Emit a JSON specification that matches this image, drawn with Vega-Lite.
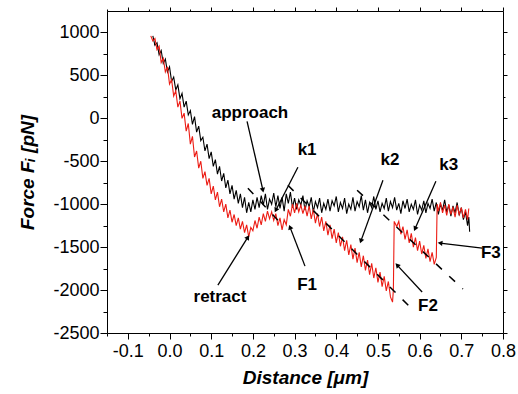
{
  "$schema": "https://vega.github.io/schema/vega-lite/v6.json",
  "width": 396,
  "height": 322,
  "autosize": {"type": "none"},
  "padding": {"left": 107, "top": 11, "right": 15, "bottom": 61},
  "config": {
    "view": {"stroke": null},
    "axis": {
      "grid": false,
      "domainColor": "black",
      "domainWidth": 1,
      "tickColor": "black",
      "tickWidth": 1,
      "labelFont": "Liberation Sans",
      "labelFontSize": 18,
      "labelColor": "black",
      "titleFont": "Liberation Sans",
      "titleFontSize": 19,
      "titleFontWeight": "bold",
      "titleFontStyle": "italic",
      "titleColor": "black"
    }
  },
  "datasets": {
    "approach": [
      {"x":-0.04,"y":960},{"x":-0.035,"y":850},{"x":-0.03,"y":880},{"x":-0.025,"y":740},{"x":-0.02,"y":790},{"x":-0.015,"y":640},{"x":-0.01,"y":690},{"x":-0.005,"y":540},{"x":0,"y":600},{"x":0.005,"y":430},{"x":0.01,"y":480},{"x":0.015,"y":330},{"x":0.02,"y":390},{"x":0.025,"y":230},{"x":0.03,"y":290},{"x":0.035,"y":130},{"x":0.04,"y":200},{"x":0.045,"y":40},{"x":0.05,"y":90},{"x":0.055,"y":-70},{"x":0.06,"y":20},{"x":0.065,"y":-160},{"x":0.07,"y":-90},{"x":0.075,"y":-260},{"x":0.08,"y":-220},{"x":0.085,"y":-380},{"x":0.09,"y":-300},{"x":0.095,"y":-470},{"x":0.1,"y":-390},{"x":0.105,"y":-560},{"x":0.11,"y":-480},{"x":0.115,"y":-650},{"x":0.12,"y":-560},{"x":0.125,"y":-730},{"x":0.13,"y":-640},{"x":0.135,"y":-810},{"x":0.14,"y":-720},{"x":0.145,"y":-880},{"x":0.15,"y":-780},{"x":0.155,"y":-940},{"x":0.16,"y":-840},{"x":0.165,"y":-990},{"x":0.17,"y":-880},{"x":0.175,"y":-1040},{"x":0.18,"y":-920},{"x":0.185,"y":-1100},{"x":0.19,"y":-980},{"x":0.195,"y":-1090},{"x":0.2,"y":-950},
      {"x":0.205,"y":-1060},{"x":0.21,"y":-920},{"x":0.215,"y":-1040},{"x":0.22,"y":-900},{"x":0.225,"y":-1010},{"x":0.23,"y":-880},{"x":0.235,"y":-1060},{"x":0.24,"y":-940},{"x":0.245,"y":-1000},{"x":0.25,"y":-870},{"x":0.255,"y":-1030},{"x":0.26,"y":-900},{"x":0.265,"y":-1050},{"x":0.27,"y":-920},{"x":0.275,"y":-1080},{"x":0.28,"y":-880},{"x":0.285,"y":-990},{"x":0.29,"y":-860},{"x":0.295,"y":-1040},{"x":0.3,"y":-930},{"x":0.305,"y":-1060},{"x":0.31,"y":-950},{"x":0.315,"y":-1010},{"x":0.32,"y":-900},{"x":0.325,"y":-1070},{"x":0.33,"y":-960},{"x":0.335,"y":-1030},{"x":0.34,"y":-920},{"x":0.345,"y":-1090},{"x":0.35,"y":-970},{"x":0.355,"y":-1040},{"x":0.36,"y":-930},{"x":0.365,"y":-1100},{"x":0.37,"y":-990},{"x":0.375,"y":-1060},{"x":0.38,"y":-940},{"x":0.385,"y":-1080},{"x":0.39,"y":-960},{"x":0.395,"y":-1020},{"x":0.4,"y":-910},{"x":0.405,"y":-1090},{"x":0.41,"y":-980},{"x":0.415,"y":-1050},{"x":0.42,"y":-930},{"x":0.425,"y":-1110},{"x":0.43,"y":-1000},{"x":0.435,"y":-1060},{"x":0.44,"y":-920},{"x":0.445,"y":-1080},{"x":0.45,"y":-970},{"x":0.455,"y":-1030},{"x":0.46,"y":-900},{"x":0.465,"y":-1070},{"x":0.47,"y":-950},{"x":0.475,"y":-1100},{"x":0.48,"y":-980},{"x":0.485,"y":-1040},{"x":0.49,"y":-910},{"x":0.495,"y":-1060},{"x":0.5,"y":-960},{"x":0.505,"y":-1090},{"x":0.51,"y":-990},{"x":0.515,"y":-1050},{"x":0.52,"y":-930},{"x":0.525,"y":-1080},{"x":0.53,"y":-970},{"x":0.535,"y":-1040},{"x":0.54,"y":-920},{"x":0.545,"y":-1070},{"x":0.55,"y":-990},{"x":0.555,"y":-1110},{"x":0.56,"y":-960},{"x":0.565,"y":-1050},{"x":0.57,"y":-940},{"x":0.575,"y":-1090},{"x":0.58,"y":-1000},{"x":0.585,"y":-1060},{"x":0.59,"y":-950},{"x":0.595,"y":-1120},{"x":0.6,"y":-1010},{"x":0.605,"y":-1070},{"x":0.61,"y":-960},{"x":0.615,"y":-1100},{"x":0.62,"y":-990},{"x":0.625,"y":-1050},{"x":0.63,"y":-940},{"x":0.635,"y":-1080},{"x":0.64,"y":-980},{"x":0.645,"y":-1120},{"x":0.65,"y":-1000},{"x":0.655,"y":-1070},{"x":0.66,"y":-950},{"x":0.665,"y":-1090},{"x":0.67,"y":-1010},{"x":0.675,"y":-1140},{"x":0.68,"y":-1020},{"x":0.685,"y":-1100},{"x":0.69,"y":-980},{"x":0.695,"y":-1130},{"x":0.7,"y":-1040},{"x":0.705,"y":-1180},{"x":0.71,"y":-1090},{"x":0.715,"y":-1250},{"x":0.718,"y":-1150},{"x":0.72,"y":-1320}
    ],
    "retract": [
      {"x":-0.045,"y":960},{"x":-0.04,"y":900},{"x":-0.035,"y":930},{"x":-0.03,"y":800},{"x":-0.025,"y":840},{"x":-0.02,"y":650},{"x":-0.015,"y":700},{"x":-0.01,"y":540},{"x":-0.005,"y":600},{"x":0,"y":400},{"x":0.005,"y":450},{"x":0.01,"y":260},{"x":0.015,"y":320},{"x":0.02,"y":130},{"x":0.025,"y":200},{"x":0.03,"y":0},{"x":0.035,"y":60},{"x":0.04,"y":-150},{"x":0.045,"y":-60},{"x":0.05,"y":-300},{"x":0.055,"y":-210},{"x":0.06,"y":-450},{"x":0.065,"y":-380},{"x":0.07,"y":-580},{"x":0.075,"y":-500},{"x":0.08,"y":-700},{"x":0.085,"y":-620},{"x":0.09,"y":-780},{"x":0.095,"y":-700},{"x":0.1,"y":-880},{"x":0.105,"y":-790},{"x":0.11,"y":-950},{"x":0.115,"y":-860},{"x":0.12,"y":-1030},{"x":0.125,"y":-940},{"x":0.13,"y":-1090},{"x":0.135,"y":-1000},{"x":0.14,"y":-1160},{"x":0.145,"y":-1070},{"x":0.15,"y":-1210},{"x":0.155,"y":-1120},{"x":0.16,"y":-1250},{"x":0.165,"y":-1160},{"x":0.17,"y":-1290},{"x":0.175,"y":-1200},{"x":0.18,"y":-1330},{"x":0.185,"y":-1240},{"x":0.19,"y":-1380},{"x":0.195,"y":-1270},{"x":0.2,"y":-1310},
      {"x":0.205,"y":-1190},{"x":0.21,"y":-1280},{"x":0.215,"y":-1150},{"x":0.22,"y":-1240},{"x":0.225,"y":-1110},{"x":0.23,"y":-1200},{"x":0.235,"y":-1080},{"x":0.24,"y":-1170},{"x":0.245,"y":-1090},{"x":0.25,"y":-1190},{"x":0.255,"y":-1110},{"x":0.26,"y":-1250},{"x":0.265,"y":-1160},{"x":0.27,"y":-1300},{"x":0.275,"y":-1180},{"x":0.28,"y":-1240},{"x":0.285,"y":-1060},{"x":0.29,"y":-1140},{"x":0.295,"y":-1000},{"x":0.3,"y":-1100},{"x":0.305,"y":-990},{"x":0.31,"y":-1090},{"x":0.315,"y":-1010},{"x":0.32,"y":-1110},{"x":0.325,"y":-1020},
      {"x":0.33,"y":-1140},{"x":0.335,"y":-1020},{"x":0.34,"y":-1170},{"x":0.345,"y":-1060},{"x":0.35,"y":-1220},{"x":0.355,"y":-1110},{"x":0.36,"y":-1260},{"x":0.365,"y":-1150},{"x":0.37,"y":-1310},{"x":0.375,"y":-1200},{"x":0.38,"y":-1360},{"x":0.385,"y":-1240},{"x":0.39,"y":-1400},{"x":0.395,"y":-1290},{"x":0.4,"y":-1450},{"x":0.405,"y":-1330},{"x":0.41,"y":-1490},{"x":0.415,"y":-1380},{"x":0.42,"y":-1540},{"x":0.425,"y":-1420},{"x":0.43,"y":-1590},{"x":0.435,"y":-1470},{"x":0.44,"y":-1640},{"x":0.445,"y":-1510},{"x":0.45,"y":-1680},{"x":0.455,"y":-1560},{"x":0.46,"y":-1730},{"x":0.465,"y":-1600},{"x":0.47,"y":-1770},{"x":0.475,"y":-1650},{"x":0.48,"y":-1820},{"x":0.485,"y":-1690},{"x":0.49,"y":-1860},{"x":0.495,"y":-1740},{"x":0.5,"y":-1910},{"x":0.505,"y":-1790},{"x":0.51,"y":-1960},{"x":0.515,"y":-1840},{"x":0.52,"y":-2010},{"x":0.525,"y":-1900},{"x":0.53,"y":-2080},{"x":0.535,"y":-2140},{"x":0.537,"y":-2000},
      {"x":0.539,"y":-1200},{"x":0.545,"y":-1260},{"x":0.55,"y":-1200},{"x":0.555,"y":-1350},{"x":0.56,"y":-1260},{"x":0.565,"y":-1410},{"x":0.57,"y":-1300},{"x":0.575,"y":-1450},{"x":0.58,"y":-1340},{"x":0.585,"y":-1500},{"x":0.59,"y":-1390},{"x":0.595,"y":-1540},{"x":0.6,"y":-1430},{"x":0.605,"y":-1580},{"x":0.61,"y":-1480},{"x":0.615,"y":-1630},{"x":0.62,"y":-1520},{"x":0.625,"y":-1670},{"x":0.63,"y":-1560},{"x":0.635,"y":-1700},{"x":0.64,"y":-1620},
      {"x":0.642,"y":-1000},{"x":0.645,"y":-1080},{"x":0.65,"y":-980},{"x":0.655,"y":-1100},{"x":0.66,"y":-1010},{"x":0.665,"y":-1130},{"x":0.67,"y":-1000},{"x":0.675,"y":-1120},{"x":0.68,"y":-1030},{"x":0.685,"y":-1150},{"x":0.69,"y":-1010},{"x":0.695,"y":-1120},{"x":0.7,"y":-1040},{"x":0.705,"y":-1160},{"x":0.71,"y":-1060},{"x":0.715,"y":-1180},{"x":0.718,"y":-1050}
    ],
    "fits": [
      {"x":0.284,"y":-779,"x2":0.577,"y2":-2198},
      {"x":0.45,"y":-837,"x2":0.704,"y2":-1988},
      {"x":0.188,"y":-814,"x2":0.26,"y2":-1186}
    ],
    "arrows": [
      {"x":0.186,"y":-35,"x2":0.224,"y2":-837,"dir":167},
      {"x":0.308,"y":-570,"x2":0.255,"y2":-1070,"dir":207},
      {"x":0.512,"y":-721,"x2":0.459,"y2":-1430,"dir":200},
      {"x":0.639,"y":-733,"x2":0.589,"y2":-1287,"dir":204},
      {"x":0.116,"y":-1942,"x2":0.188,"y2":-1384,"dir":32},
      {"x":0.325,"y":-1721,"x2":0.289,"y2":-1267,"dir":339},
      {"x":0.606,"y":-2023,"x2":0.546,"y2":-1709,"dir":317},
      {"x":0.75,"y":-1512,"x2":0.649,"y2":-1453,"dir":277}
    ],
    "labels": [
      {"x":0.193,"y":58,"text":"approach"},
      {"x":0.33,"y":-372,"text":"k1"},
      {"x":0.529,"y":-488,"text":"k2"},
      {"x":0.67,"y":-547,"text":"k3"},
      {"x":0.121,"y":-2081,"text":"retract"},
      {"x":0.33,"y":-1942,"text":"F1"},
      {"x":0.62,"y":-2186,"text":"F2"},
      {"x":0.771,"y":-1570,"text":"F3"}
    ]
  },
  "layer": [
    {
      "data": {"name": "approach"},
      "mark": {"type": "line", "color": "black", "strokeWidth": 1.1},
      "encoding": {
        "x": {"field": "x", "type": "quantitative",
          "scale": {"domain": [-0.15, 0.8], "nice": false, "zero": false},
          "axis": {"orient": "bottom", "title": "Distance [μm]",
            "values": [-0.15,-0.1,-0.05,0,0.05,0.1,0.15,0.2,0.25,0.3,0.35,0.4,0.45,0.5,0.55,0.6,0.65,0.7,0.75,0.8],
            "labelExpr": "abs(datum.value*10 - round(datum.value*10)) < 0.001 ? ((datum.value < -0.001 ? '-' : '') + format(abs(datum.value), '.1f')) : ''",
            "tickSize": {"condition": {"test": "abs(datum.value*10 - round(datum.value*10)) < 0.001", "value": 6}, "value": 3},
            "labelPadding": 3, "titlePadding": 8, "labelFlush": false}},
        "y": {"field": "y", "type": "quantitative",
          "scale": {"domain": [-2500, 1250], "nice": false, "zero": false},
          "axis": {"orient": "left", "title": "Force Fᵢ [pN]",
            "values": [-2500,-2250,-2000,-1750,-1500,-1250,-1000,-750,-500,-250,0,250,500,750,1000],
            "labelExpr": "datum.value % 500 === 0 ? ((datum.value < 0 ? '-' : '') + format(abs(datum.value), 'd')) : ''",
            "tickSize": {"condition": {"test": "datum.value % 500 === 0", "value": 7}, "value": 4},
            "labelPadding": 1, "titlePadding": 15, "labelFlush": false}}
      }
    },
    {
      "data": {"name": "retract"},
      "mark": {"type": "line", "color": "#ec1c14", "strokeWidth": 1.1},
      "encoding": {
        "x": {"field": "x", "type": "quantitative",
          "scale": {"domain": [-0.15, 0.8], "nice": false, "zero": false},
          "axis": {"orient": "top", "title": null, "labels": false,
            "values": [-0.15,-0.1,-0.05,0,0.05,0.1,0.15,0.2,0.25,0.3,0.35,0.4,0.45,0.5,0.55,0.6,0.65,0.7,0.75,0.8],
            "tickSize": {"condition": {"test": "abs(datum.value*10 - round(datum.value*10)) < 0.001", "value": 4}, "value": 2}}},
        "y": {"field": "y", "type": "quantitative",
          "scale": {"domain": [-2500, 1250], "nice": false, "zero": false},
          "axis": {"orient": "right", "title": null, "labels": false,
            "values": [-2500,-2250,-2000,-1750,-1500,-1250,-1000,-750,-500,-250,0,250,500,750,1000],
            "tickSize": {"condition": {"test": "datum.value % 500 === 0", "value": 4}, "value": 2}}}
      }
    },
    {
      "data": {"name": "fits"},
      "mark": {"type": "rule", "color": "black", "strokeWidth": 1.5, "strokeDash": [8, 10]},
      "encoding": {
        "x": {"field": "x", "type": "quantitative", "scale": {"domain": [-0.15, 0.8], "nice": false, "zero": false}, "axis": null},
        "y": {"field": "y", "type": "quantitative", "scale": {"domain": [-2500, 1250], "nice": false, "zero": false}, "axis": null},
        "x2": {"field": "x2"},
        "y2": {"field": "y2"}
      }
    },
    {
      "data": {"name": "arrows"},
      "mark": {"type": "rule", "color": "black", "strokeWidth": 1.3},
      "encoding": {
        "x": {"field": "x", "type": "quantitative", "scale": {"domain": [-0.15, 0.8], "nice": false, "zero": false}, "axis": null},
        "y": {"field": "y", "type": "quantitative", "scale": {"domain": [-2500, 1250], "nice": false, "zero": false}, "axis": null},
        "x2": {"field": "x2"},
        "y2": {"field": "y2"}
      }
    },
    {
      "data": {"name": "arrows"},
      "mark": {"type": "point", "shape": "triangle-up", "filled": true, "color": "black", "size": 30, "opacity": 1},
      "encoding": {
        "x": {"field": "x2", "type": "quantitative", "scale": {"domain": [-0.15, 0.8], "nice": false, "zero": false}, "axis": null},
        "y": {"field": "y2", "type": "quantitative", "scale": {"domain": [-2500, 1250], "nice": false, "zero": false}, "axis": null},
        "angle": {"field": "dir", "type": "quantitative", "scale": null}
      }
    },
    {
      "data": {"name": "labels"},
      "mark": {"type": "text", "font": "Liberation Sans", "fontSize": 17, "fontWeight": "bold", "color": "black", "align": "center", "baseline": "middle"},
      "encoding": {
        "x": {"field": "x", "type": "quantitative", "scale": {"domain": [-0.15, 0.8], "nice": false, "zero": false}, "axis": null},
        "y": {"field": "y", "type": "quantitative", "scale": {"domain": [-2500, 1250], "nice": false, "zero": false}, "axis": null},
        "text": {"field": "text"}
      }
    }
  ],
  "resolve": {"axis": {"x": "independent", "y": "independent"}}
}
